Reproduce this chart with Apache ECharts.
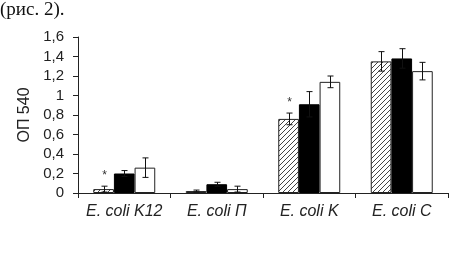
<!DOCTYPE html>
<html>
<head>
<meta charset="utf-8">
<script src="https://cdn.jsdelivr.net/npm/echarts@6/dist/echarts.min.js"></script>
<style>
  html, body { margin: 0; padding: 0; background: #fff; }
  #chart { width: 457px; height: 258px; }
</style>
</head>
<body>
<div id="chart"></div>
<script>
const categories = ['E. coli K12', 'E. coli П', 'E. coli K', 'E. coli C'];
const hatched = [0.04, 0.02, 0.76, 1.35];
const hatchedErr = [0.03, 0.01, 0.06, 0.1];
const black = [0.2, 0.09, 0.91, 1.38];
const blackErr = [0.03, 0.02, 0.13, 0.1];
const white = [0.26, 0.04, 1.14, 1.25];
const whiteErr = [0.1, 0.03, 0.06, 0.09];
const asterisk = [1, 0, 1, 0];

// diagonal hatch pattern
var hatch = document.createElement('canvas');
hatch.width = 5; hatch.height = 5;
var hc = hatch.getContext('2d');
hc.fillStyle = '#fff';
hc.fillRect(0, 0, 5, 5);
hc.strokeStyle = '#444';
hc.lineWidth = 1;
hc.beginPath();
hc.moveTo(-1, 6); hc.lineTo(6, -1);
hc.moveTo(-1, 1); hc.lineTo(1, -1);
hc.moveTo(4, 6); hc.lineTo(6, 4);
hc.stroke();

const gapPct = 0.33;
var errData = [];
[[hatched, hatchedErr], [black, blackErr], [white, whiteErr]].forEach(function (s, si) {
  s[0].forEach(function (v, ci) {
    errData.push([ci, si, v, s[1][ci], si === 0 ? asterisk[ci] : 0]);
  });
});

var myChart = echarts.init(document.getElementById('chart'));
var option = {
  animation: false,
  title: {
    text: '(рис. 2).',
    left: 0, top: 1, padding: 0,
    textStyle: { fontFamily: 'Liberation Serif', fontSize: 19, fontWeight: 'normal', color: '#111' }
  },
  grid: { left: 78, right: 9, top: 37, bottom: 65 },
  xAxis: {
    type: 'category',
    data: categories,
    axisLine: { lineStyle: { color: '#222', width: 1 } },
    axisTick: { show: true, length: 5, lineStyle: { color: '#222' } },
    axisLabel: { interval: 0, hideOverlap: false, fontSize: 16, fontStyle: 'italic', fontFamily: 'Liberation Sans', color: '#222', margin: 11 }
  },
  yAxis: {
    type: 'value',
    min: 0, max: 1.6, interval: 0.2,
    name: 'ОП 540',
    nameLocation: 'middle',
    nameRotate: 90,
    nameGap: 45,
    nameTextStyle: { fontSize: 16, fontFamily: 'Liberation Sans', color: '#222' },
    axisLine: { show: true, lineStyle: { color: '#222', width: 1 } },
    axisTick: { show: true, length: 5, lineStyle: { color: '#222' } },
    splitLine: { show: false },
    axisLabel: {
      fontSize: 15, fontFamily: 'Liberation Sans', color: '#222', margin: 14,
      formatter: function (v) { return String(Math.round(v * 10) / 10).replace('.', ','); }
    }
  },
  series: [
    {
      type: 'bar', data: hatched, barGap: 0, barCategoryGap: '33%',
      itemStyle: { color: { image: hatch, repeat: 'repeat' }, borderColor: '#222', borderWidth: 1 }
    },
    {
      type: 'bar', data: black, barGap: 0, barCategoryGap: '33%',
      itemStyle: { color: '#000', borderColor: '#000', borderWidth: 1 }
    },
    {
      type: 'bar', data: white, barGap: 0, barCategoryGap: '33%',
      itemStyle: { color: '#fff', borderColor: '#222', borderWidth: 1 }
    },
    {
      type: 'custom',
      data: errData,
      encode: { x: 0, y: 2 },
      z: 10,
      renderItem: function (params, api) {
        var ci = api.value(0), si = api.value(1), v = api.value(2), e = api.value(3), star = api.value(4);
        var catW = api.size([1, 0])[0];
        var bw = catW * (1 - gapPct) / 3;
        var x = Math.round(api.coord([ci, 0])[0] + (si - 1) * bw) + 0.5;
        var top = api.coord([ci, v + e])[1];
        var bot = api.coord([ci, v - e])[1];
        var st = { stroke: '#111', lineWidth: 1 };
        var children = [
          { type: 'line', shape: { x1: x, y1: top, x2: x, y2: bot }, style: st },
          { type: 'line', shape: { x1: x - 3, y1: top, x2: x + 3, y2: top }, style: st },
          { type: 'line', shape: { x1: x - 3, y1: bot, x2: x + 3, y2: bot }, style: st }
        ];
        if (star) {
          children.push({
            type: 'text',
            style: { text: '*', x: x, y: top - 4, align: 'center', verticalAlign: 'bottom', fill: '#333', font: '12px Liberation Sans' }
          });
        }
        return { type: 'group', children: children };
      }
    }
  ]
};
option && myChart.setOption(option);
</script>
</body>
</html>
